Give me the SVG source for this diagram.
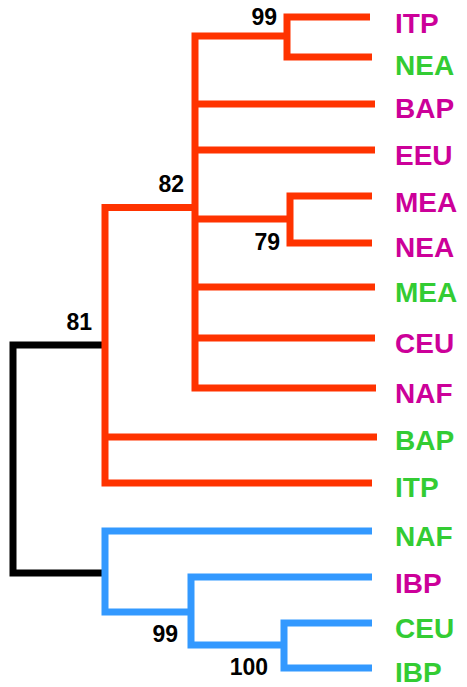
<svg xmlns="http://www.w3.org/2000/svg" width="467" height="687" viewBox="0 0 467 687">
<style>
.e{fill:none;stroke-width:7;stroke-linejoin:miter;stroke-linecap:butt}
.r{stroke:#FF3300}.b{stroke:#3399FF}.k{stroke:#000}
.t{font-family:"Liberation Sans",Arial,sans-serif;font-weight:bold;font-size:28px}
.m{fill:#CC0099}.g{fill:#33CC33}
.n{font-family:"Liberation Sans",Arial,sans-serif;font-weight:bold;font-size:23px;fill:#000;text-anchor:end}
</style>
<rect width="467" height="687" fill="#fff"/>
<g id="connectors">
<path class="e k" d="M105,345 H13 V573 H105"/>
<path class="e r" d="M195,207.5 H105 V483 H372"/>
<path class="e r" d="M105,437 H377"/>
<path class="e r" d="M287,36 H195 V388 H376"/>
<path class="e r" d="M195,104 H375 M195,150 H375 M195,287 H375 M195,338 H375 M195,219 H290"/>
<path class="e r" d="M370,17 H287 V57 H372"/>
<path class="e r" d="M372,196 H290 V243 H372"/>
<path class="e b" d="M372,531 H105 V612 H191"/>
<path class="e b" d="M372,577 H191 V645 H284"/>
<path class="e b" d="M372,623 H284 V668 H372"/>
</g>
<g id="support">
<text class="n" x="277" y="25">99</text>
<text class="n" x="184" y="192">82</text>
<text class="n" x="280" y="250">79</text>
<text class="n" x="92" y="330">81</text>
<text class="n" x="178" y="642">99</text>
<text class="n" x="268" y="675">100</text>
</g>
<g id="leaf-ITP1"><text class="t m" x="395" y="33">ITP</text></g>
<g id="leaf-NEA1"><text class="t g" x="395" y="75">NEA</text></g>
<g id="leaf-BAP1"><text class="t m" x="395" y="118">BAP</text></g>
<g id="leaf-EEU"><text class="t m" x="395" y="165">EEU</text></g>
<g id="leaf-MEA1"><text class="t m" x="395" y="212">MEA</text></g>
<g id="leaf-NEA2"><text class="t m" x="395" y="257">NEA</text></g>
<g id="leaf-MEA2"><text class="t g" x="395" y="302">MEA</text></g>
<g id="leaf-CEU1"><text class="t m" x="395" y="353">CEU</text></g>
<g id="leaf-NAF1"><text class="t m" x="395" y="403">NAF</text></g>
<g id="leaf-BAP2"><text class="t g" x="395" y="450">BAP</text></g>
<g id="leaf-ITP2"><text class="t g" x="395" y="497">ITP</text></g>
<g id="leaf-NAF2"><text class="t g" x="395" y="546">NAF</text></g>
<g id="leaf-IBP1"><text class="t m" x="395" y="593">IBP</text></g>
<g id="leaf-CEU2"><text class="t g" x="395" y="638">CEU</text></g>
<g id="leaf-IBP2"><text class="t g" x="395" y="682">IBP</text></g>
</svg>
